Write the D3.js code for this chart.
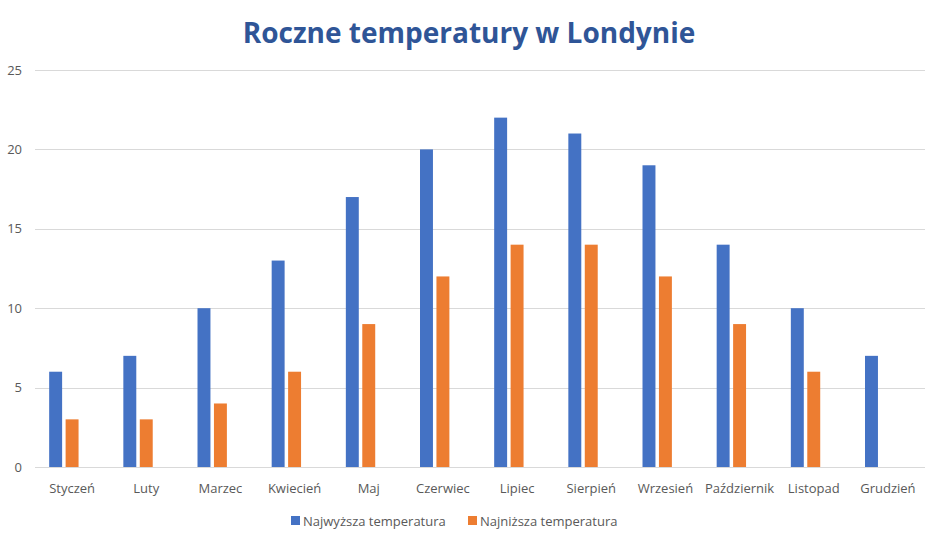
<!DOCTYPE html>
<html><head><meta charset="utf-8">
<script src="https://cdn.jsdelivr.net/npm/d3@7"></script>
<style>body{margin:0;background:#fff;}svg{display:block;font-family:"Open Sans","Noto Sans",sans-serif;}</style>
</head><body><svg id="c" width="937" height="536"></svg>
<script>
const months = ["Styczeń","Luty","Marzec","Kwiecień","Maj","Czerwiec","Lipiec","Sierpień","Wrzesień","Październik","Listopad","Grudzień"];
const highTemps = [6,7,10,13,17,20,22,21,19,14,10,7];
const lowTemps = [3,3,4,6,9,12,14,14,12,9,6,null];
const seriesNames = ["Najwyższa temperatura","Najniższa temperatura"];
const seriesColors = ["#4472C4","#ED7D31"];
const yTicks = [0,5,10,15,20,25];
const title = "Roczne temperatury w Londynie";

const svg = d3.select("#c");
const L = 35, R = 925, T = 70, B = 467;
const x = d3.scaleBand().domain(months).range([L, R]).paddingInner(0).paddingOuter(0);
const y = d3.scaleLinear().domain([0, 25]).range([B, T]);
const bw = x.bandwidth();
const w = bw / (3 + 2*0.27 + 2.19);
const gapOuter = 2.19*w/2;
const step = w*1.27;

// gridlines
svg.append("g").selectAll("line").data(yTicks).join("line")
  .attr("x1", L).attr("x2", R)
  .attr("y1", d => Math.round(y(d))+0.5).attr("y2", d => Math.round(y(d))+0.5)
  .attr("stroke", "#D9D9D9").attr("stroke-width", 1);

// y labels
svg.append("g").selectAll("text").data(yTicks).join("text")
  .attr("x", 22).attr("y", d => y(d)).attr("dy", "0.35em")
  .attr("text-anchor", "end").attr("fill", "#595959").attr("font-size", 13)
  .text(d => d);

const series = [highTemps, lowTemps];
series.forEach((vals, si) => {
  svg.append("g").selectAll("rect").data(months.map((m,i)=>({m, v: vals[i]})).filter(d => d.v != null)).join("rect")
    .attr("x", d => x(d.m) + gapOuter + si*step)
    .attr("width", w)
    .attr("y", d => y(d.v))
    .attr("height", d => y(0) - y(d.v))
    .attr("fill", seriesColors[si]);
});

// x labels
svg.append("g").selectAll("text").data(months).join("text")
  .attr("x", d => x(d) + bw/2).attr("y", 488).attr("dy", "0.35em")
  .attr("text-anchor", "middle").attr("fill", "#595959").attr("font-size", 13)
  .text(d => d);

// title
svg.append("text").attr("x", 469).attr("y", 33).attr("dy", "0.35em")
  .attr("text-anchor", "middle").attr("fill", "#2F5597")
  .attr("font-size", 28).attr("font-weight", "bold").text(title);

// legend
const lg = svg.append("g");
const legX = [291, 468];
seriesNames.forEach((n, i) => {
  lg.append("rect").attr("x", legX[i]).attr("y", 516).attr("width", 9).attr("height", 9).attr("fill", seriesColors[i]);
  lg.append("text").attr("x", legX[i] + 12).attr("y", 521).attr("dy", "0.35em")
    .attr("fill", "#595959").attr("font-size", 13).text(n);
});
</script></body></html>
